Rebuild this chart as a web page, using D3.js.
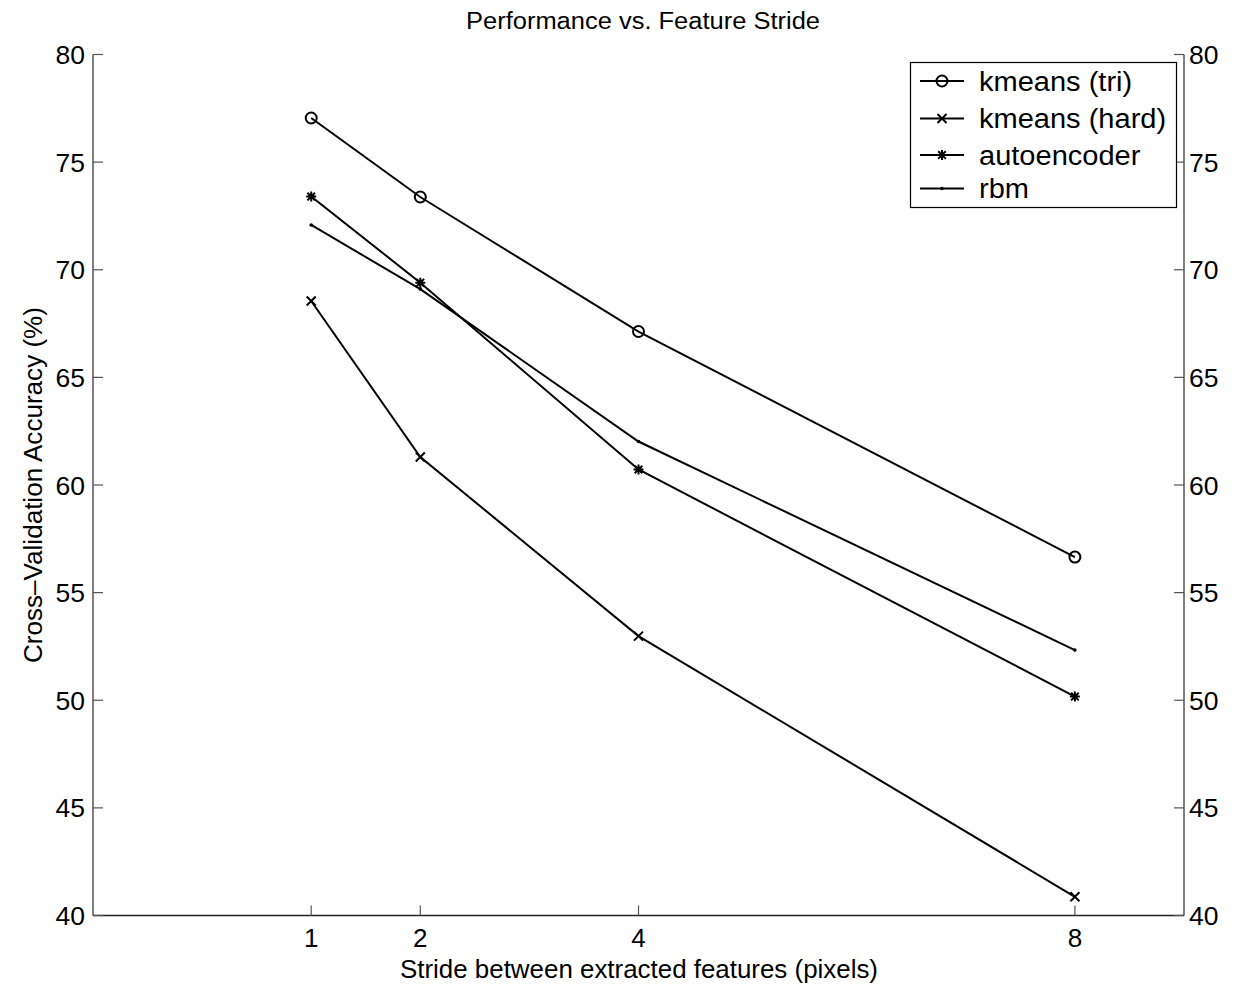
<!DOCTYPE html>
<html><head><meta charset="utf-8">
<script src="https://cdn.jsdelivr.net/npm/d3@7"></script>
<style>body{margin:0;background:#fff}text{font-family:"Liberation Sans",Arial,Helvetica,sans-serif;fill:#000}</style>
</head><body><svg id="c" width="1255" height="984"></svg>
<script>
const strides = [1, 2, 4, 8];
const kmeansTri = [77.05, 73.38, 67.13, 56.65];
const kmeansHard = [68.55, 61.3, 52.98, 40.87];
const autoencoder = [73.4, 69.4, 60.72, 50.17];
const rbm = [72.08, 69.1, 62.02, 52.33];
const seriesNames = ["kmeans (tri)", "kmeans (hard)", "autoencoder", "rbm"];
const seriesMarkers = ["o", "x", "*", "."];
const yTicks = [40, 45, 50, 55, 60, 65, 70, 75, 80];
const xTicks = [1, 2, 4, 8];
const titleText = "Performance vs. Feature Stride";
const xLabel = "Stride between extracted features (pixels)";
const yLabel = "Cross\u2013Validation Accuracy (%)";

const seriesValues = [kmeansTri, kmeansHard, autoencoder, rbm];
const svg = d3.select("#c");
const L = 93, R = 1184, T = 54.5, B = 915.5;
const x = d3.scaleLinear().domain([-1, 9]).range([L, R]);
const y = d3.scaleLinear().domain([40, 80]).range([B, T]);
const axisCol = "#555";

function stretch(t, f) {
  const w = t.node().getComputedTextLength();
  t.attr("textLength", w * f).attr("lengthAdjust", "spacingAndGlyphs");
}

// axes
const g = svg.append("g");
g.append("line").attr("x1", L).attr("x2", L).attr("y1", T).attr("y2", B).attr("stroke", axisCol).attr("stroke-width", 1.5);
g.append("line").attr("x1", R).attr("x2", R).attr("y1", T).attr("y2", B).attr("stroke", axisCol).attr("stroke-width", 1.5);
g.append("line").attr("x1", L).attr("x2", R).attr("y1", B).attr("y2", B).attr("stroke", "#222").attr("stroke-width", 1.5);

yTicks.forEach(v => {
  const yy = y(v);
  g.append("line").attr("x1", L).attr("x2", L + 10).attr("y1", yy).attr("y2", yy).attr("stroke", axisCol).attr("stroke-width", 1.2);
  g.append("line").attr("x1", R).attr("x2", R - 10).attr("y1", yy).attr("y2", yy).attr("stroke", axisCol).attr("stroke-width", 1.2);
  g.append("text").attr("x", L - 8).attr("y", yy).attr("dy", "0.36em").attr("text-anchor", "end").attr("font-size", 26.5).text(v);
  g.append("text").attr("x", R + 5).attr("y", yy).attr("dy", "0.36em").attr("text-anchor", "start").attr("font-size", 26.5).text(v);
});
xTicks.forEach(v => {
  const xx = x(v);
  g.append("line").attr("x1", xx).attr("x2", xx).attr("y1", B).attr("y2", B - 10).attr("stroke", axisCol).attr("stroke-width", 1.2);
  g.append("text").attr("x", xx).attr("y", B + 31.5).attr("text-anchor", "middle").attr("font-size", 26).text(v);
});

svg.append("text").attr("x", 643).attr("y", 29).attr("text-anchor", "middle").attr("font-size", 23)
  .attr("textLength", 354).attr("lengthAdjust", "spacingAndGlyphs").text(titleText);
svg.append("text").attr("x", 639).attr("y", 977.5).attr("text-anchor", "middle").attr("font-size", 25)
  .attr("textLength", 478).attr("lengthAdjust", "spacingAndGlyphs").text(xLabel);
svg.append("text").attr("transform", `translate(42,485) rotate(-90)`).attr("text-anchor", "middle").attr("font-size", 26)
  .attr("textLength", 356).attr("lengthAdjust", "spacingAndGlyphs").text(yLabel);

function marker(sel, type, cx, cy) {
  if (type === "o") {
    sel.append("circle").attr("cx", cx).attr("cy", cy).attr("r", 5.5).attr("fill", "none").attr("stroke", "#000").attr("stroke-width", 2);
  } else if (type === "x") {
    const s = 4.5;
    sel.append("path").attr("d", `M${cx - s},${cy - s}L${cx + s},${cy + s}M${cx - s},${cy + s}L${cx + s},${cy - s}`).attr("stroke", "#000").attr("stroke-width", 2);
  } else if (type === "*") {
    const s = 5, d = 3.8;
    sel.append("path").attr("d", `M${cx - d},${cy - d}L${cx + d},${cy + d}M${cx - d},${cy + d}L${cx + d},${cy - d}M${cx},${cy - s}L${cx},${cy + s}M${cx - s},${cy}L${cx + s},${cy}`).attr("stroke", "#000").attr("stroke-width", 2);
  } else {
    sel.append("circle").attr("cx", cx).attr("cy", cy).attr("r", 1.8).attr("fill", "#000");
  }
}

const line = d3.line().x((d, i) => x(strides[i])).y(d => y(d));
seriesValues.forEach((vals, si) => {
  const sg = svg.append("g");
  sg.append("path").attr("d", line(vals)).attr("fill", "none").attr("stroke", "#000").attr("stroke-width", 2);
  vals.forEach((v, i) => marker(sg, seriesMarkers[si], x(strides[i]), y(v)));
});

// legend
const lg = svg.append("g");
lg.append("rect").attr("x", 910.5).attr("y", 62.5).attr("width", 266).attr("height", 145).attr("fill", "#fff").attr("stroke", "#000").attr("stroke-width", 1.2);
const rowY = [81, 118.5, 155, 188.5];
seriesNames.forEach((n, i) => {
  const yy = rowY[i];
  lg.append("line").attr("x1", 920).attr("x2", 964).attr("y1", yy).attr("y2", yy).attr("stroke", "#000").attr("stroke-width", 2);
  marker(lg, seriesMarkers[i], 942, yy);
  const t = lg.append("text").attr("x", 979).attr("y", yy).attr("dy", "0.36em").attr("font-size", 27).text(n);
  stretch(t, 1.075);
});
</script></body></html>
